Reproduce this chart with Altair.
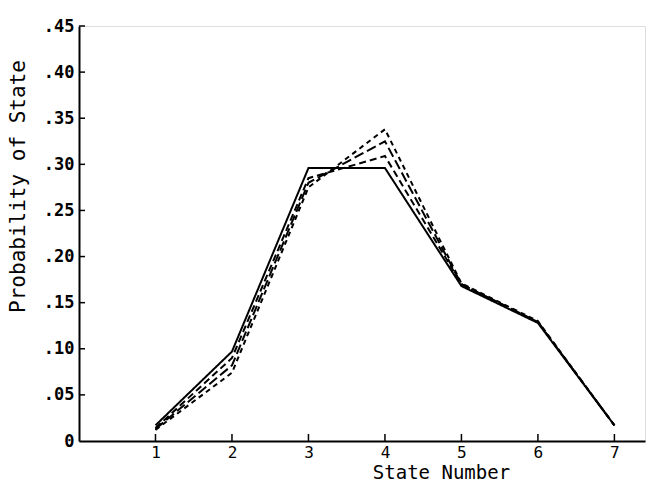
import altair as alt
import pandas as pd

states = [1, 2, 3, 4, 5, 6, 7]
series_solid = [0.017, 0.097, 0.296, 0.296, 0.168, 0.128, 0.017]
series_dash_a = [0.014, 0.090, 0.285, 0.309, 0.170, 0.129, 0.017]
series_dash_b = [0.013, 0.082, 0.280, 0.325, 0.170, 0.129, 0.017]
series_dash_c = [0.012, 0.074, 0.275, 0.338, 0.171, 0.130, 0.017]
series_names = ["S1", "S2", "S3", "S4"]
y_ticks = [0.05, 0.10, 0.15, 0.20, 0.25, 0.30, 0.35, 0.40, 0.45]

rows = []
for name, vals in zip(series_names, [series_solid, series_dash_a, series_dash_b, series_dash_c]):
    for s, v in zip(states, vals):
        rows.append({"state": s, "p": v, "series": name})
df = pd.DataFrame(rows)

W, H = 566, 415
FONT = "DejaVu Sans Mono"

xscale = alt.Scale(domain=[0, 7.4], nice=False, zero=False)
yscale = alt.Scale(domain=[0, 0.45], nice=False)

lines = alt.Chart(df).mark_line(color="black", strokeWidth=2).encode(
    x=alt.X("state:Q", scale=xscale,
            axis=alt.Axis(values=states, format="d", ticks=False, grid=False,
                          domainColor="black", domainWidth=2,
                          labelFont=FONT, labelFontSize=16, labelColor="black",
                          labelPadding=3,
                          title="State Number", titleFont=FONT, titleFontSize=19,
                          titleFontWeight="normal", titleColor="black",
                          titleX=362, titleY=31, titleBaseline="middle")),
    y=alt.Y("p:Q", scale=yscale,
            axis=alt.Axis(values=[0] + y_ticks, ticks=False, grid=False,
                          domainColor="black", domainWidth=2,
                          labelExpr="datum.value == 0 ? '0' : replace(format(datum.value, '.2f'), '0.', '.')",
                          labelFont=FONT, labelFontSize=17, labelFontWeight="bold",
                          labelColor="black", labelPadding=5,
                          title="Probability of State", titleFont=FONT, titleFontSize=21,
                          titleFontWeight="normal", titleColor="black",
                          titleX=-61, titleY=160, titleAngle=-90, titleBaseline="middle")),
    strokeDash=alt.StrokeDash("series:N",
                              scale=alt.Scale(domain=series_names,
                                              range=[[1, 0], [7, 4], [10, 4], [5, 4]]),
                              legend=None),
)

ytick_df = pd.DataFrame({"v": y_ticks})
yticks = alt.Chart(ytick_df).mark_rule(color="black", strokeWidth=1.5).encode(
    y=alt.Y("v:Q", scale=yscale),
    x=alt.value(0),
    x2=alt.value(6),
)

xtick_df = pd.DataFrame({"s": states})
xticks = alt.Chart(xtick_df).mark_rule(color="black", strokeWidth=1.5).encode(
    x=alt.X("s:Q", scale=xscale),
    y=alt.value(H),
    y2=alt.value(H - 7),
)

chart = alt.layer(lines, yticks, xticks).properties(
    width=W, height=H,
    autosize=alt.AutoSizeParams(type="none"),
    padding={"left": 79, "top": 26, "right": 5, "bottom": 41},
).configure_view(stroke=None).configure(background="white")

chart.save("out.html", embed_options={"renderer": "svg", "actions": False})
